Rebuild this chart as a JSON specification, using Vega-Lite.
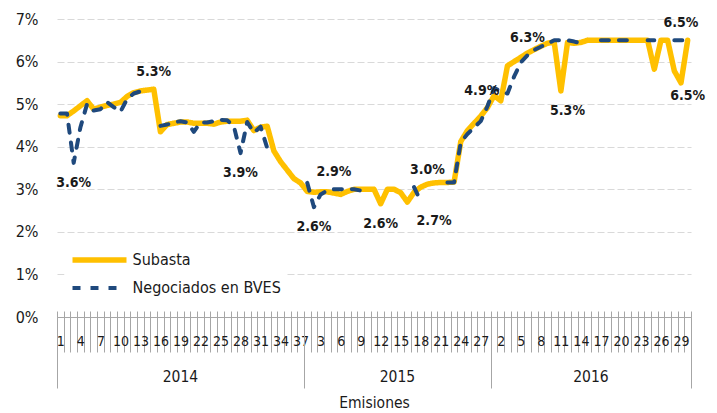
{
  "$schema": "https://vega.github.io/schema/vega-lite/v6.json",
  "width": 634,
  "height": 298,
  "autosize": "none",
  "padding": {"left": 57, "top": 19, "right": 26, "bottom": 96},
  "background": "white",
  "config": {
    "view": {"stroke": null},
    "font": "Liberation Sans Narrow, Arial Narrow, DejaVu Sans Condensed, Liberation Sans, sans-serif",
    "axis": {"labelFont": "Liberation Sans Narrow, Arial Narrow, DejaVu Sans Condensed, Liberation Sans, sans-serif", "titleFont": "Liberation Sans Narrow, Arial Narrow, DejaVu Sans Condensed, Liberation Sans, sans-serif", "labelColor": "#1a1a1a", "titleColor": "#1a1a1a"},
    "legend": {"labelFont": "Liberation Sans Narrow, Arial Narrow, DejaVu Sans Condensed, Liberation Sans, sans-serif"},
    "text": {"font": "Liberation Sans Narrow, Arial Narrow, DejaVu Sans Condensed, Liberation Sans, sans-serif"}
  },
  "datasets": {
    "series": [
      {"id": "2014-1", "Subasta": 4.73, "Negociados en BVES": 4.78},
      {"id": "2014-2", "Subasta": 4.73, "Negociados en BVES": 4.78},
      {"id": "2014-3", "Subasta": 4.84, "Negociados en BVES": 3.62},
      {"id": "2014-4", "Subasta": 4.96, "Negociados en BVES": 4.45},
      {"id": "2014-5", "Subasta": 5.08, "Negociados en BVES": 5.0},
      {"id": "2014-6", "Subasta": 4.88, "Negociados en BVES": 4.85},
      {"id": "2014-7", "Subasta": 4.93, "Negociados en BVES": 4.88},
      {"id": "2014-8", "Subasta": 4.97, "Negociados en BVES": 5.05},
      {"id": "2014-9", "Subasta": 5.0, "Negociados en BVES": 4.93},
      {"id": "2014-10", "Subasta": 5.04, "Negociados en BVES": 4.82},
      {"id": "2014-11", "Subasta": 5.18, "Negociados en BVES": 5.12},
      {"id": "2014-12", "Subasta": 5.27, "Negociados en BVES": 5.25},
      {"id": "2014-13", "Subasta": 5.31, "Negociados en BVES": 5.3},
      {"id": "2014-14", "Subasta": 5.33, "Negociados en BVES": 5.33},
      {"id": "2014-15", "Subasta": 5.35, "Negociados en BVES": null},
      {"id": "2014-16", "Subasta": 4.35, "Negociados en BVES": 4.49},
      {"id": "2014-17", "Subasta": 4.52, "Negociados en BVES": 4.52},
      {"id": "2014-18", "Subasta": 4.55, "Negociados en BVES": 4.57},
      {"id": "2014-19", "Subasta": 4.58, "Negociados en BVES": 4.6},
      {"id": "2014-20", "Subasta": 4.58, "Negociados en BVES": 4.57},
      {"id": "2014-21", "Subasta": 4.55, "Negociados en BVES": 4.35},
      {"id": "2014-22", "Subasta": 4.55, "Negociados en BVES": 4.57},
      {"id": "2014-23", "Subasta": 4.55, "Negociados en BVES": 4.57},
      {"id": "2014-24", "Subasta": 4.53, "Negociados en BVES": 4.6},
      {"id": "2014-25", "Subasta": 4.58, "Negociados en BVES": 4.63},
      {"id": "2014-26", "Subasta": 4.6, "Negociados en BVES": 4.62},
      {"id": "2014-27", "Subasta": 4.6, "Negociados en BVES": 4.48},
      {"id": "2014-28", "Subasta": 4.6, "Negociados en BVES": 3.85},
      {"id": "2014-29", "Subasta": 4.62, "Negociados en BVES": 4.58},
      {"id": "2014-30", "Subasta": 4.38, "Negociados en BVES": 4.33},
      {"id": "2014-31", "Subasta": 4.46, "Negociados en BVES": 4.47},
      {"id": "2014-32", "Subasta": 4.48, "Negociados en BVES": 3.97},
      {"id": "2014-33", "Subasta": 3.9, "Negociados en BVES": null},
      {"id": "2014-34", "Subasta": 3.65, "Negociados en BVES": null},
      {"id": "2014-35", "Subasta": 3.45, "Negociados en BVES": null},
      {"id": "2014-36", "Subasta": 3.25, "Negociados en BVES": null},
      {"id": "2014-37", "Subasta": 3.15, "Negociados en BVES": null},
      {"id": "2015-1", "Subasta": 2.95, "Negociados en BVES": 3.15},
      {"id": "2015-2", "Subasta": 2.93, "Negociados en BVES": 2.58},
      {"id": "2015-3", "Subasta": 2.94, "Negociados en BVES": 2.88},
      {"id": "2015-4", "Subasta": 2.94, "Negociados en BVES": 2.97},
      {"id": "2015-5", "Subasta": 2.91, "Negociados en BVES": 3.0},
      {"id": "2015-6", "Subasta": 2.88, "Negociados en BVES": 3.0},
      {"id": "2015-7", "Subasta": 2.95, "Negociados en BVES": 3.01},
      {"id": "2015-8", "Subasta": 3.0, "Negociados en BVES": 3.0},
      {"id": "2015-9", "Subasta": 3.0, "Negociados en BVES": 2.97},
      {"id": "2015-10", "Subasta": 3.0, "Negociados en BVES": null},
      {"id": "2015-11", "Subasta": 3.0, "Negociados en BVES": null},
      {"id": "2015-12", "Subasta": 2.66, "Negociados en BVES": null},
      {"id": "2015-13", "Subasta": 3.0, "Negociados en BVES": null},
      {"id": "2015-14", "Subasta": 3.0, "Negociados en BVES": null},
      {"id": "2015-15", "Subasta": 2.92, "Negociados en BVES": null},
      {"id": "2015-16", "Subasta": 2.7, "Negociados en BVES": null},
      {"id": "2015-17", "Subasta": 2.93, "Negociados en BVES": 3.05},
      {"id": "2015-18", "Subasta": 3.05, "Negociados en BVES": 2.72},
      {"id": "2015-19", "Subasta": 3.12, "Negociados en BVES": null},
      {"id": "2015-20", "Subasta": 3.15, "Negociados en BVES": null},
      {"id": "2015-21", "Subasta": 3.16, "Negociados en BVES": null},
      {"id": "2015-22", "Subasta": 3.16, "Negociados en BVES": 3.16},
      {"id": "2015-23", "Subasta": 3.17, "Negociados en BVES": 3.16},
      {"id": "2015-24", "Subasta": 4.12, "Negociados en BVES": 4.1},
      {"id": "2015-25", "Subasta": 4.38, "Negociados en BVES": 4.3},
      {"id": "2015-26", "Subasta": 4.55, "Negociados en BVES": 4.45},
      {"id": "2015-27", "Subasta": 4.72, "Negociados en BVES": 4.6},
      {"id": "2015-28", "Subasta": 4.92, "Negociados en BVES": 4.95},
      {"id": "2016-1", "Subasta": 5.2, "Negociados en BVES": 5.38},
      {"id": "2016-2", "Subasta": 5.08, "Negociados en BVES": 5.3},
      {"id": "2016-3", "Subasta": 5.9, "Negociados en BVES": 5.25},
      {"id": "2016-4", "Subasta": 6.0, "Negociados en BVES": 5.65},
      {"id": "2016-5", "Subasta": 6.1, "Negociados en BVES": 5.98},
      {"id": "2016-6", "Subasta": 6.2, "Negociados en BVES": 6.15},
      {"id": "2016-7", "Subasta": 6.28, "Negociados en BVES": 6.27},
      {"id": "2016-8", "Subasta": 6.36, "Negociados en BVES": 6.35},
      {"id": "2016-9", "Subasta": 6.43, "Negociados en BVES": 6.42},
      {"id": "2016-10", "Subasta": 6.46, "Negociados en BVES": 6.5},
      {"id": "2016-11", "Subasta": 5.31, "Negociados en BVES": 6.5},
      {"id": "2016-12", "Subasta": 6.45, "Negociados en BVES": 6.5},
      {"id": "2016-13", "Subasta": 6.43, "Negociados en BVES": 6.47},
      {"id": "2016-14", "Subasta": 6.45, "Negociados en BVES": 6.43},
      {"id": "2016-15", "Subasta": 6.5, "Negociados en BVES": null},
      {"id": "2016-16", "Subasta": 6.5, "Negociados en BVES": null},
      {"id": "2016-17", "Subasta": 6.5, "Negociados en BVES": 6.5},
      {"id": "2016-18", "Subasta": 6.5, "Negociados en BVES": 6.5},
      {"id": "2016-19", "Subasta": 6.5, "Negociados en BVES": 6.5},
      {"id": "2016-20", "Subasta": 6.5, "Negociados en BVES": 6.5},
      {"id": "2016-21", "Subasta": 6.5, "Negociados en BVES": 6.5},
      {"id": "2016-22", "Subasta": 6.5, "Negociados en BVES": null},
      {"id": "2016-23", "Subasta": 6.5, "Negociados en BVES": null},
      {"id": "2016-24", "Subasta": 6.5, "Negociados en BVES": 6.5},
      {"id": "2016-25", "Subasta": 5.82, "Negociados en BVES": 6.5},
      {"id": "2016-26", "Subasta": 6.5, "Negociados en BVES": null},
      {"id": "2016-27", "Subasta": 6.5, "Negociados en BVES": null},
      {"id": "2016-28", "Subasta": 5.78, "Negociados en BVES": 6.5},
      {"id": "2016-29", "Subasta": 5.5, "Negociados en BVES": 6.5},
      {"id": "2016-30", "Subasta": 6.5, "Negociados en BVES": 6.5}
    ],
    "above": [
      {"id": "2014-15", "v": 5.35, "t": "5.3%"},
      {"id": "2015-5", "v": 3.0, "t": "2.9%"},
      {"id": "2015-19", "v": 3.05, "t": "3.0%"},
      {"id": "2016-6", "v": 6.15, "t": "6.3%"},
      {"id": "2016-29", "v": 6.5, "t": "6.5%"}
    ],
    "below": [
      {"id": "2014-3", "v": 3.62, "t": "3.6%"},
      {"id": "2014-28", "v": 3.85, "t": "3.9%"},
      {"id": "2015-2", "v": 2.58, "t": "2.6%"},
      {"id": "2015-12", "v": 2.66, "t": "2.6%"},
      {"id": "2015-20", "v": 2.72, "t": "2.7%"},
      {"id": "2016-12", "v": 5.31, "t": "5.3%"},
      {"id": "2016-30", "v": 5.65, "t": "6.5%"}
    ],
    "left": [
      {"id": "2016-2", "v": 5.3, "t": "4.9%"}
    ]
  },
  "resolve": {"axis": {"x": "independent"}},
  "layer": [
    {
      "data": {"name": "series"},
      "transform": [{"fold": ["Subasta", "Negociados en BVES"], "as": ["serie", "v"]}],
      "mark": {"type": "line", "strokeCap": "round", "strokeJoin": "round", "invalid": "break-paths-show-domains"},
      "encoding": {
        "x": {
          "field": "id", "type": "nominal",
          "scale": {"type": "band", "paddingInner": 0, "paddingOuter": 0, "domain": ["2014-1","2014-2","2014-3","2014-4","2014-5","2014-6","2014-7","2014-8","2014-9","2014-10","2014-11","2014-12","2014-13","2014-14","2014-15","2014-16","2014-17","2014-18","2014-19","2014-20","2014-21","2014-22","2014-23","2014-24","2014-25","2014-26","2014-27","2014-28","2014-29","2014-30","2014-31","2014-32","2014-33","2014-34","2014-35","2014-36","2014-37","2015-1","2015-2","2015-3","2015-4","2015-5","2015-6","2015-7","2015-8","2015-9","2015-10","2015-11","2015-12","2015-13","2015-14","2015-15","2015-16","2015-17","2015-18","2015-19","2015-20","2015-21","2015-22","2015-23","2015-24","2015-25","2015-26","2015-27","2015-28","2016-1","2016-2","2016-3","2016-4","2016-5","2016-6","2016-7","2016-8","2016-9","2016-10","2016-11","2016-12","2016-13","2016-14","2016-15","2016-16","2016-17","2016-18","2016-19","2016-20","2016-21","2016-22","2016-23","2016-24","2016-25","2016-26","2016-27","2016-28","2016-29","2016-30"]},
          "axis": {
            "orient": "bottom", "title": null, "tickBand": "extent", "tickSize": 35, "tickColor": "#A6A6A6", "domainColor": "#A6A6A6",
            "labelAngle": 0, "labelOverlap": false, "labelPadding": -18, "labelFontSize": 14, "labelBound": false,
            "labelExpr": "toNumber(substring(datum.value,5)) % 3 == (substring(datum.value,3,4) == '4' ? 1 : substring(datum.value,3,4) == '5' ? 0 : 2) ? substring(datum.value,5) : ''"
          }
        },
        "y": {
          "field": "v", "type": "quantitative",
          "scale": {"domain": [0, 7], "nice": false},
          "axis": {"values": [0,1,2,3,4,5,6,7], "labelExpr": "datum.value + '%'", "title": null, "domain": false, "ticks": false, "labelPadding": 19, "labelFontSize": 16, "grid": true, "gridColor": "#D9D9D9", "gridDash": [7, 3]}
        },
        "color": {
          "field": "serie", "type": "nominal",
          "scale": {"domain": ["Subasta", "Negociados en BVES"], "range": ["#FFC000", "#1F497D"]},
          "legend": {"orient": "none", "legendX": 7.5, "legendY": 222, "title": null, "fillColor": "white", "padding": 5, "symbolType": "stroke", "symbolSize": 2916, "clipHeight": 28, "rowPadding": 0, "labelFontSize": 16, "labelColor": "#1a1a1a", "labelOffset": 3, "labelLimit": 300}
        },
        "strokeDash": {
          "field": "serie", "type": "nominal",
          "scale": {"domain": ["Subasta", "Negociados en BVES"], "range": [[1, 0], [8, 10]]},
          "legend": {"orient": "none", "legendX": 7.5, "legendY": 222, "title": null, "fillColor": "white", "padding": 5, "symbolType": "stroke", "symbolSize": 2916, "clipHeight": 28, "rowPadding": 0, "labelFontSize": 16, "labelColor": "#1a1a1a", "labelOffset": 3, "labelLimit": 300}
        },
        "strokeWidth": {
          "field": "serie", "type": "nominal",
          "scale": {"domain": ["Subasta", "Negociados en BVES"], "range": [5.5, 4]},
          "legend": {"orient": "none", "legendX": 7.5, "legendY": 222, "title": null, "fillColor": "white", "padding": 5, "symbolType": "stroke", "symbolSize": 2916, "clipHeight": 28, "rowPadding": 0, "labelFontSize": 16, "labelColor": "#1a1a1a", "labelOffset": 3, "labelLimit": 300}
        }
      }
    },
    {
      "data": {"name": "above"},
      "mark": {"type": "text", "fontWeight": "bold", "fontSize": 14, "color": "#1a1a1a", "dy": -17, "baseline": "middle", "align": "center"},
      "encoding": {
        "x": {"field": "id", "type": "nominal", "axis": {"orient": "bottom", "title": null, "tickBand": "extent", "tickSize": 71, "tickColor": "#A6A6A6", "tickOpacity": {"condition": {"test": "datum.extra || indexof(['2014-37','2015-28','2016-30'], datum.value) >= 0", "value": 1}, "value": 0}, "labels": false, "domain": false, "grid": false}},
        "y": {"field": "v", "type": "quantitative"},
        "text": {"field": "t"}
      }
    },
    {
      "data": {"name": "below"},
      "mark": {"type": "text", "fontWeight": "bold", "fontSize": 14, "color": "#1a1a1a", "dy": 20, "baseline": "middle", "align": "center"},
      "encoding": {
        "x": {"field": "id", "type": "nominal", "axis": {"orient": "bottom", "values": ["2014-19", "2015-15", "2016-16"], "labelExpr": "substring(datum.value,0,4)", "ticks": false, "domain": false, "grid": false, "labelAngle": 0, "labelOverlap": false, "labelPadding": 52, "labelFontSize": 15.5, "labelOffset": {"condition": {"test": "datum.value == '2014-19'", "value": 0}, "value": -3.3}, "title": "Emisiones", "titleFontSize": 15.5, "titleFontWeight": "normal", "titlePadding": 11}},
        "y": {"field": "v", "type": "quantitative"},
        "text": {"field": "t"}
      }
    },
    {
      "data": {"name": "left"},
      "mark": {"type": "text", "fontWeight": "bold", "fontSize": 14, "color": "#1a1a1a", "dx": -19, "baseline": "middle", "align": "center"},
      "encoding": {
        "x": {"field": "id", "type": "nominal", "axis": {"orient": "bottom", "title": null, "tickBand": "extent", "tickSize": -6, "tickColor": "#A6A6A6", "labels": false, "domain": false, "grid": false}},
        "y": {"field": "v", "type": "quantitative"},
        "text": {"field": "t"}
      }
    }
  ]
}
